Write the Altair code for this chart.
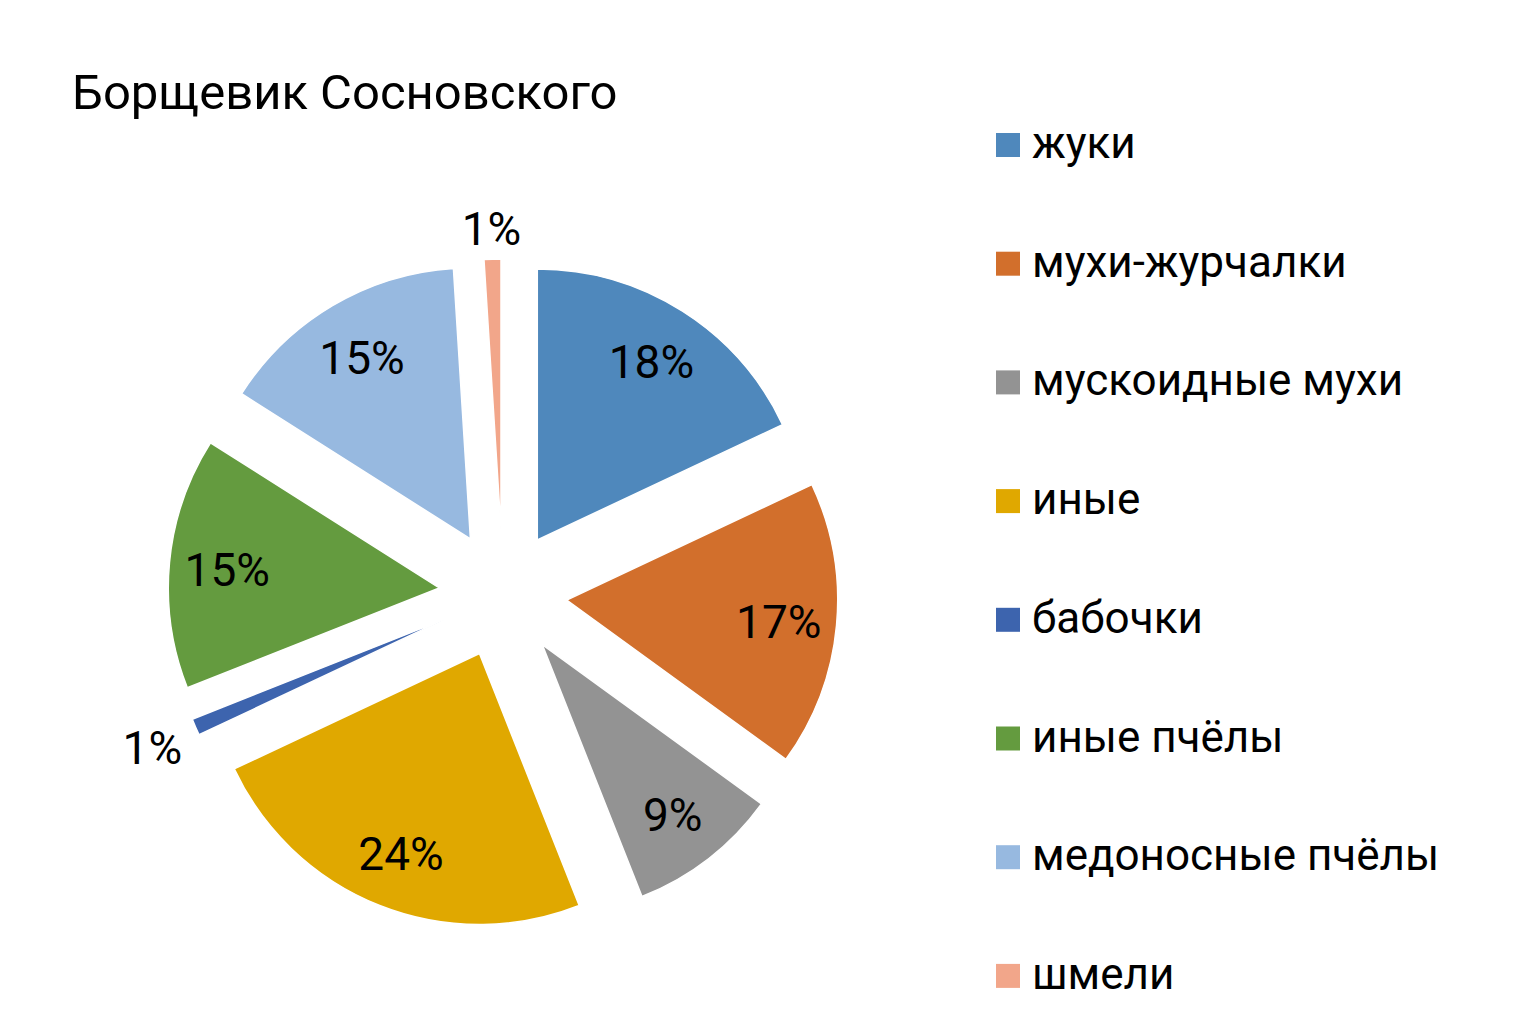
import math
import altair as alt
import pandas as pd

# ---- data ----
chart_title = "Борщевик Сосновского"
categories = ["жуки", "мухи-журчалки", "мускоидные мухи", "иные", "бабочки",
              "иные пчёлы", "медоносные пчёлы", "шмели"]
percents = [18, 17, 9, 24, 1, 15, 15, 1]
colors = ["#4F88BC", "#D26F2C", "#939393", "#E0A800", "#3D64AE",
          "#649B3F", "#97B9E0", "#F2A68A"]

# ---- layout (pixels) ----
W, H = 1515, 1035
CX, CY = 503, 594          # pie centre
R = 271                    # pie radius
EXPLODE = 64 / R           # slice explosion, in radius units
IN_R = 213 / R             # inside label distance
OUT_GAP = 283              # outside label gap (px)
BOX_HW, BOX_HH = 30, 19    # half size of outside label box (px)
FONT = "Roboto"

df = pd.DataFrame({"category": categories, "value": percents,
                   "order": list(range(len(categories)))})

x_scale = alt.Scale(domain=[-CX / R, (W - CX) / R], nice=False, zero=False)
y_scale = alt.Scale(domain=[-(H - CY) / R, CY / R], nice=False, zero=False)
theta_scale = alt.Scale(domain=[0, 1], range=[0, 2 * math.pi])

base = alt.Chart(df).transform_joinaggregate(
    total="sum(value)"
).transform_window(
    cum="sum(value)", sort=[alt.SortField("order")], frame=[None, 0]
).transform_calculate(
    t0="(datum.cum - datum.value) / datum.total",
    t1="datum.cum / datum.total",
    mid="(datum.cum - datum.value / 2) / datum.total * 2 * PI",
).transform_calculate(
    ox=f"{EXPLODE} * sin(datum.mid)",
    oy=f"{EXPLODE} * cos(datum.mid)",
    lr=(f"datum.value / datum.total < 0.05 ? ({OUT_GAP} + abs(sin(datum.mid)) * {BOX_HW}"
        f" + abs(cos(datum.mid)) * {BOX_HH}) / {R} : {IN_R}"),
).transform_calculate(
    lx="datum.ox + datum.lr * sin(datum.mid)",
    ly="datum.oy + datum.lr * cos(datum.mid)",
    label="format(datum.value / datum.total, '.0%')",
)

arcs = base.mark_arc(outerRadius=R, stroke="white", strokeWidth=1.5).encode(
    x=alt.X("ox:Q", scale=x_scale, axis=None),
    y=alt.Y("oy:Q", scale=y_scale, axis=None),
    theta=alt.Theta("t0:Q", scale=theta_scale, stack=False),
    theta2="t1:Q",
    color=alt.Color(
        "category:N",
        scale=alt.Scale(domain=categories, range=colors),
        sort=categories,
        legend=alt.Legend(
            title=None, orient="none", legendX=986, legendY=123,
            symbolType="square", symbolSize=576, symbolStrokeWidth=0,
            labelFont=FONT, labelFontSize=44, labelColor="black",
            labelOffset=2, rowPadding=74.7, labelLimit=0, padding=0,
        ),
    ),
)

labels = base.mark_text(font=FONT, fontSize=46, color="black", dy=4).encode(
    x=alt.X("lx:Q", scale=x_scale, axis=None),
    y=alt.Y("ly:Q", scale=y_scale, axis=None),
    text="label:N",
)

chart = alt.layer(arcs, labels).properties(
    width=W, height=H,
    padding={"left": 0, "top": 0, "right": 0, "bottom": 0},
    autosize=alt.AutoSizeParams(type="none"),
    background="white",
    title=alt.Title(chart_title, anchor="start", frame="group", font=FONT,
                    fontSize=49, fontWeight="normal", color="black",
                    offset=-119, dx=72),
).configure_view(strokeWidth=0)

chart.save("out.html", embed_options={"renderer": "svg", "actions": False})
